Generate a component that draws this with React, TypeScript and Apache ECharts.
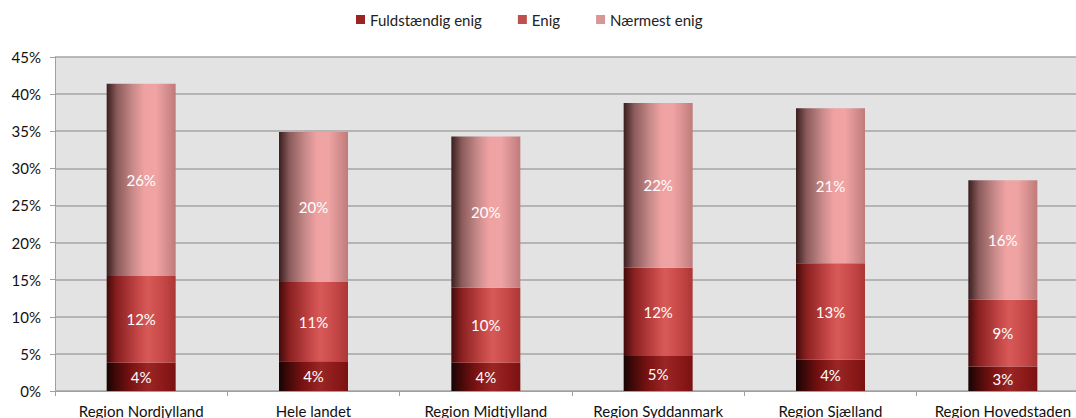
import React, { useEffect, useRef } from "react";
import * as echarts from "echarts";

const categories = [
  "Region Nordjylland",
  "Hele landet",
  "Region Midtjylland",
  "Region Syddanmark",
  "Region Sjælland",
  "Region Hovedstaden",
];
const seriesNames = ["Fuldstændig enig", "Enig", "Nærmest enig"];
const fuldstaendigEnig = [3.8, 4.0, 3.8, 4.7, 4.2, 3.3];
const enig = [11.7, 10.7, 10.1, 11.9, 13.0, 9.0];
const naermestEnig = [25.9, 20.2, 20.4, 22.2, 20.9, 16.1];
const yTicks = { min: 0, max: 45, interval: 5 };

const legendColors = ["#9b2423", "#c0504d", "#d99694"];

const grad = (stops: [number, string][]) =>
  new echarts.graphic.LinearGradient(
    0,
    0,
    1,
    0,
    stops.map(([offset, color]) => ({ offset, color }))
  );

const fills = [
  grad([
    [0, "#160404"],
    [0.12, "#3e0808"],
    [0.35, "#7a1212"],
    [0.6, "#9a2625"],
    [0.85, "#8a1818"],
    [1, "#7a1212"],
  ]),
  grad([
    [0, "#420a0a"],
    [0.15, "#8a2020"],
    [0.45, "#c44646"],
    [0.6, "#d85a58"],
    [0.85, "#c24444"],
    [1, "#ab3836"],
  ]),
  grad([
    [0, "#3a1e1e"],
    [0.15, "#8a5a5a"],
    [0.38, "#c88a8a"],
    [0.55, "#f0a2a2"],
    [0.72, "#efa3a3"],
    [0.9, "#d08a8a"],
    [1, "#c07a7a"],
  ]),
];

const FONT = "Lato, 'Noto Sans', sans-serif";

export default function App() {
  const ref = useRef<HTMLDivElement>(null);
  useEffect(() => {
    if (!ref.current) return;
    const chart = echarts.init(ref.current, undefined, { renderer: "svg" });
    const data = [fuldstaendigEnig, enig, naermestEnig];
    chart.setOption({
      animation: false,
      backgroundColor: "#ffffff",
      textStyle: { fontFamily: FONT },
      legend: {
        top: 7,
        left: 351,
        itemWidth: 9,
        itemHeight: 9,
        itemGap: 36,
        icon: "rect",
        textStyle: { fontSize: 15, color: "#222", fontFamily: FONT },
        data: seriesNames.map((n, i) => ({
          name: n,
          itemStyle: { color: legendColors[i] },
        })),
      },
      grid: {
        left: 55,
        top: 57,
        width: 1034,
        height: 334.5,
        show: true,
        backgroundColor: "#e3e3e3",
        borderWidth: 0,
        containLabel: false,
      },
      xAxis: {
        type: "category",
        data: categories,
        axisLine: { show: true, lineStyle: { color: "#a0a0a0", width: 1 } },
        axisTick: { show: true, length: 5, lineStyle: { color: "#a0a0a0" } },
        axisLabel: {
          interval: 0,
          fontSize: 15,
          color: "#111",
          margin: 12,
          fontFamily: FONT,
        },
        splitLine: { show: false },
      },
      yAxis: {
        type: "value",
        min: yTicks.min,
        max: yTicks.max,
        interval: yTicks.interval,
        axisLine: { show: true, lineStyle: { color: "#a0a0a0", width: 1 } },
        axisTick: { show: true, length: 5, lineStyle: { color: "#a0a0a0" } },
        axisLabel: {
          formatter: "{value}%",
          fontSize: 15,
          color: "#111",
          margin: 14,
          fontFamily: FONT,
        },
        splitLine: { show: true, lineStyle: { color: "#a4a4a4", width: 1.6 } },
      },
      series: seriesNames.map((name, i) => ({
        name,
        type: "bar",
        stack: "total",
        barWidth: 69,
        data: data[i],
        itemStyle: { color: fills[i], borderWidth: 0 },
        label: {
          show: true,
          position: "inside",
          color: "#ffffff",
          fontSize: 15,
          fontFamily: FONT,
          formatter: (p: any) => Math.round(p.value) + "%",
        },
      })),
    });
    return () => chart.dispose();
  }, []);
  return (
    <div
      style={{
        position: "absolute",
        left: 0,
        top: 0,
        width: 1076,
        height: 418,
        overflow: "hidden",
      }}
    >
      <div ref={ref} style={{ width: 1100, height: 418 }} />
    </div>
  );
}
